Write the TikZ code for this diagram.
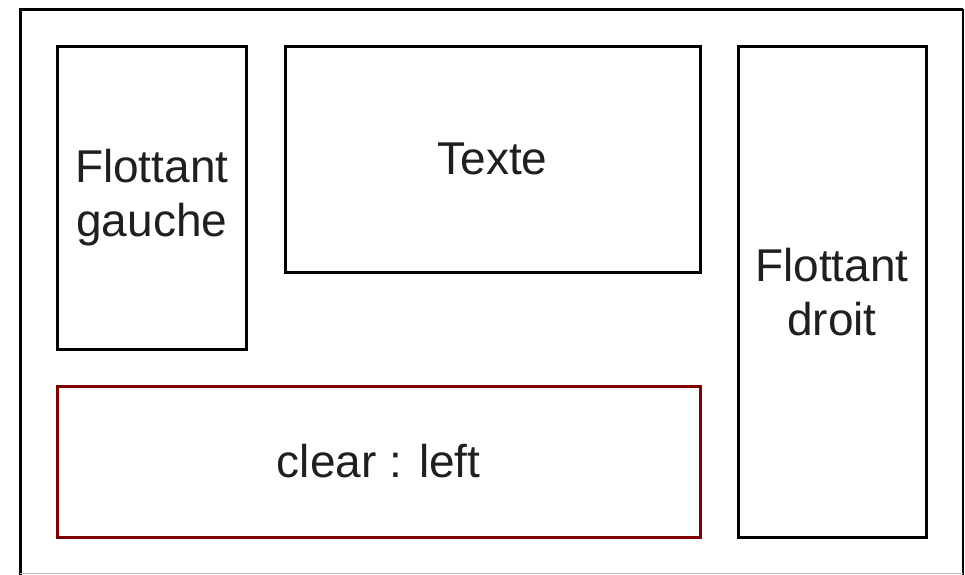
\documentclass[tikz,border=0pt]{standalone}
\usepackage{fontspec}
\setmainfont{Liberation Sans}
\usepackage{xcolor}
\usepackage{tikz}
\definecolor{clearred}{HTML}{800000}

\begin{document}
\begin{tikzpicture}[x=1pt,y=-1pt,
  bloc/.style={draw=black,line width=3pt,rectangle,inner sep=0pt,align=center,
    text=black!88,font=\fontsize{46}{54}\selectfont}]
\useasboundingbox (0,0) rectangle (965,574);
\fill[white] (0,0) rectangle (965,574);
\draw[line width=3pt] (20,580) -- (20,9) -- (962.5,9);
\draw[line width=2pt] (962.5,9) -- (962.5,580);
\draw[black!25,line width=1pt] (20,573.5) -- (962.5,573.5);
\node[bloc,minimum width=188.5pt,minimum height=302.5pt] (gauche) at (151.75,197.75) {Flottant\\gauche};
\node[bloc,minimum width=415pt,minimum height=225.5pt] (texte) at (492.5,159.25) {Texte};
\node[bloc,minimum width=188pt,minimum height=490.5pt] (droit) at (832,291.75) {Flottant\\droit};
\node[bloc,draw=clearred,minimum width=642.5pt,minimum height=151pt] (clear) at (378.75,461.5) {clear : left};
\end{tikzpicture}
\end{document}
